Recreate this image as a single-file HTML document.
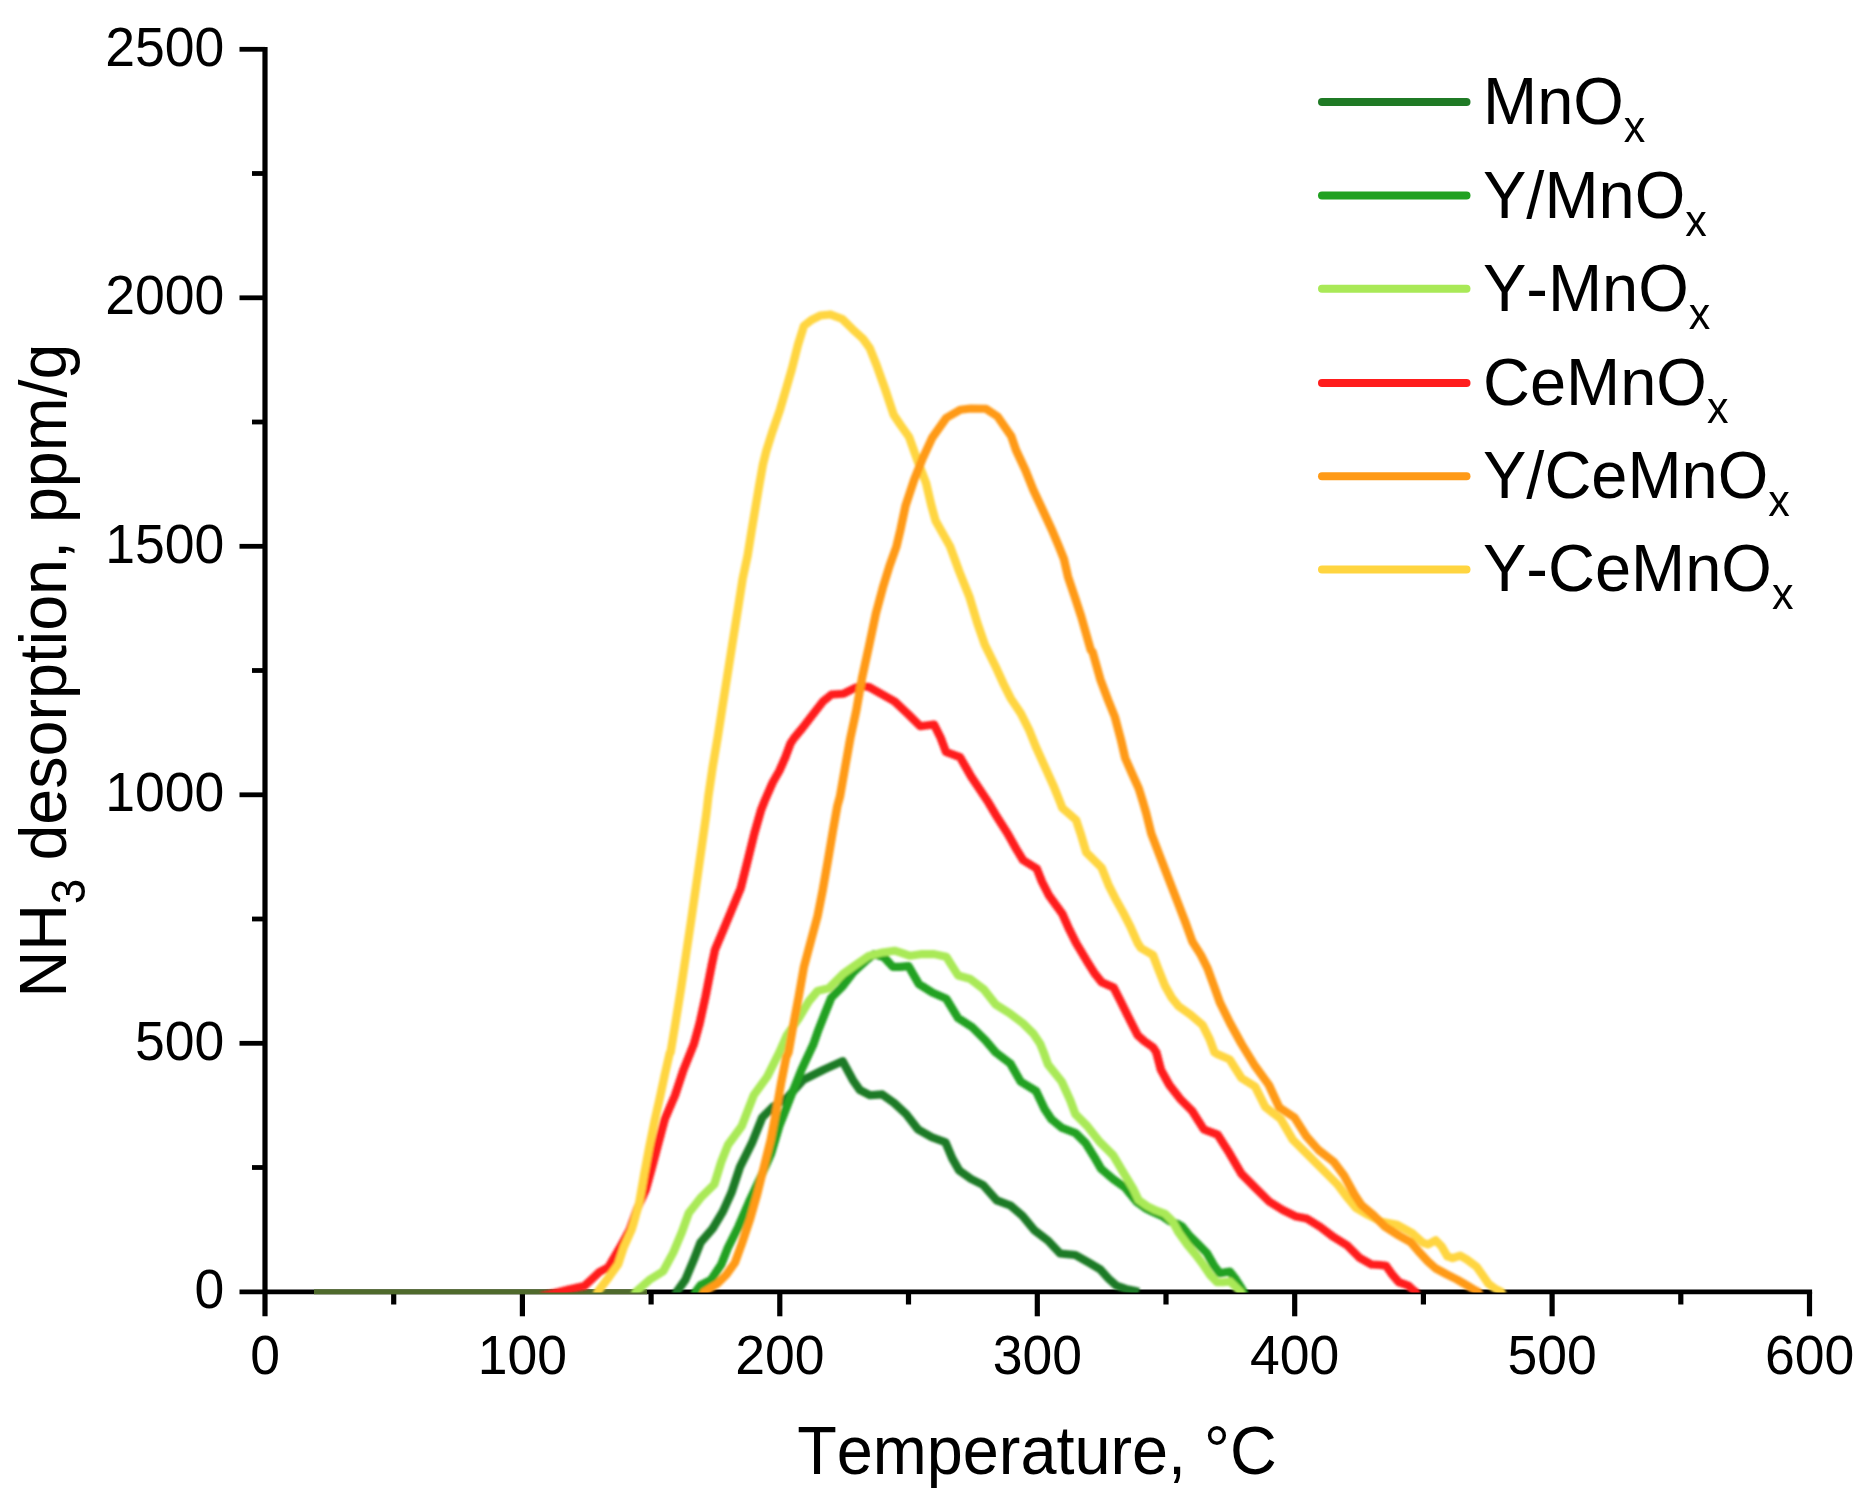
<!DOCTYPE html>
<html lang="en"><head><meta charset="utf-8"><title>NH3-TPD</title>
<style>html,body{margin:0;padding:0;background:#fff}body{width:1872px;height:1500px;overflow:hidden}svg{display:block;filter:blur(0.55px)}text{font-family:"Liberation Sans",Arial,sans-serif;fill:#000;font-kerning:none}</style>
</head><body>
<svg width="1872" height="1500" viewBox="0 0 1872 1500">
<rect width="1872" height="1500" fill="#fff"/>
<defs><filter id="soft" x="0" y="0" width="1872" height="1500" filterUnits="userSpaceOnUse"><feGaussianBlur stdDeviation="0.95"/></filter><clipPath id="plot"><rect x="262" y="40" width="1560" height="1252.4"/></clipPath></defs>
<g stroke="#000" fill="none" stroke-linecap="butt">
<g stroke-width="5.2">
<line x1="265.0" y1="46.9" x2="265.0" y2="1316.3"/>
<line x1="393.7" y1="1291.8" x2="393.7" y2="1304.5"/>
<line x1="522.4" y1="1291.8" x2="522.4" y2="1316.3"/>
<line x1="651.1" y1="1291.8" x2="651.1" y2="1304.5"/>
<line x1="779.8" y1="1291.8" x2="779.8" y2="1316.3"/>
<line x1="908.5" y1="1291.8" x2="908.5" y2="1304.5"/>
<line x1="1037.3" y1="1291.8" x2="1037.3" y2="1316.3"/>
<line x1="1166.0" y1="1291.8" x2="1166.0" y2="1304.5"/>
<line x1="1294.7" y1="1291.8" x2="1294.7" y2="1316.3"/>
<line x1="1423.4" y1="1291.8" x2="1423.4" y2="1304.5"/>
<line x1="1552.1" y1="1291.8" x2="1552.1" y2="1316.3"/>
<line x1="1680.8" y1="1291.8" x2="1680.8" y2="1304.5"/>
<line x1="1809.5" y1="1291.8" x2="1809.5" y2="1316.3"/>
</g>
<g stroke-width="4.8">
<line x1="239.5" y1="1291.8" x2="1812.1" y2="1291.8"/>
<line x1="252.0" y1="1167.5" x2="265.0" y2="1167.5"/>
<line x1="239.5" y1="1043.3" x2="265.0" y2="1043.3"/>
<line x1="252.0" y1="919.0" x2="265.0" y2="919.0"/>
<line x1="239.5" y1="794.8" x2="265.0" y2="794.8"/>
<line x1="252.0" y1="670.5" x2="265.0" y2="670.5"/>
<line x1="239.5" y1="546.3" x2="265.0" y2="546.3"/>
<line x1="252.0" y1="422.0" x2="265.0" y2="422.0"/>
<line x1="239.5" y1="297.8" x2="265.0" y2="297.8"/>
<line x1="252.0" y1="173.5" x2="265.0" y2="173.5"/>
<line x1="239.5" y1="49.3" x2="265.0" y2="49.3"/>
</g>
</g>
<rect x="314" y="1289.3" width="333" height="5.0" fill="#4f6a2c"/>
<g clip-path="url(#plot)"><g transform="scale(1.04,1)" filter="url(#soft)" fill="none" stroke-width="8.1" stroke-linejoin="round" stroke-linecap="butt">
<polyline stroke="#1f7a25" points="649.3,1295.8 650.7,1291.9 658.9,1279.9 667.2,1259.4 673.7,1242.3 685.2,1228.6 695.1,1211.5 703.3,1192.7 711.5,1167.1 723.0,1143.1 732.9,1117.5 742.8,1107.2 757.6,1097.0 772.4,1079.9 792.1,1069.6 810.2,1061.1 820.0,1079.9 826.9,1090.2 836.8,1095.3 848.3,1094.4 859.8,1103.0 871.3,1114.1 882.8,1129.5 896.0,1137.2 909.1,1142.3 915.7,1158.5 922.3,1170.5 933.8,1179.0 945.3,1185.0 958.4,1200.4 971.6,1205.5 983.1,1215.8 994.6,1230.3 1007.7,1240.6 1019.2,1253.4 1034.0,1255.1 1047.2,1262.8 1057.7,1269.2 1065.9,1278.6 1073.3,1285.5 1082.3,1288.9 1090.6,1290.6 1095.2,1291.8"/>
<polyline stroke="#21a121" points="667.4,1295.8 668.8,1291.9 673.7,1285.0 683.6,1279.9 693.5,1264.5 700.0,1247.4 709.9,1226.9 719.8,1203.0 731.3,1177.3 741.5,1153.4 749.3,1126.1 760.8,1095.3 770.7,1069.6 782.2,1044.0 786.2,1031.9 792.7,1014.8 799.3,997.7 809.2,987.5 820.7,972.1 832.2,961.0 840.4,954.1 850.3,957.5 858.5,966.9 865.4,966.9 873.6,966.1 883.5,984.0 896.6,992.6 909.8,998.6 921.3,1018.2 934.4,1026.8 947.6,1040.4 957.4,1052.4 971.6,1063.7 981.4,1081.6 996.2,1091.0 1004.4,1109.0 1011.0,1119.2 1020.9,1127.8 1034.0,1132.9 1043.9,1143.1 1052.1,1156.8 1058.7,1168.8 1070.2,1179.0 1081.7,1187.6 1093.1,1202.1 1101.2,1208.1 1109.4,1212.4 1118.5,1216.7 1125.1,1221.4 1131.6,1223.5 1136.6,1226.5 1143.9,1235.9 1152.2,1244.4 1160.4,1253.0 1167.0,1265.0 1172.8,1273.3 1182.6,1271.6 1188.4,1279.5 1194.1,1288.9 1195.7,1291.8 1197.1,1295.8"/>
<polyline stroke="#a9e957" points="609.8,1295.8 611.3,1291.9 624.4,1279.9 637.6,1271.4 647.4,1252.5 655.7,1232.0 662.2,1213.2 673.7,1197.8 686.9,1184.2 693.5,1161.9 700.0,1144.9 713.2,1126.1 724.7,1095.3 737.8,1076.5 749.3,1052.5 756.6,1035.3 768.1,1018.2 777.9,1001.1 786.2,990.9 796.8,988.3 810.8,973.8 822.3,965.2 835.5,955.8 848.6,952.4 860.1,950.7 865.4,952.4 875.2,955.8 886.8,954.1 898.3,954.1 909.8,956.7 921.3,975.5 932.8,978.9 945.9,989.2 957.4,1004.5 970.6,1013.1 983.7,1023.4 993.6,1033.6 1000.2,1043.9 1003.5,1052.4 1007.7,1064.5 1020.9,1081.6 1029.1,1100.4 1034.0,1114.1 1045.5,1126.1 1057.0,1141.4 1070.2,1155.1 1080.0,1172.2 1089.9,1189.3 1094.7,1200.0 1102.9,1206.0 1111.2,1210.3 1120.2,1213.7 1127.5,1221.4 1133.3,1232.5 1141.5,1244.4 1149.7,1254.7 1157.1,1265.0 1163.8,1275.2 1170.3,1282.2 1176.1,1282.2 1182.6,1281.4 1189.2,1288.0 1192.8,1291.8 1194.2,1295.8"/>
<polyline stroke="#ff1d1d" points="520.2,1296.3 548.0,1289.1 561.9,1286.0 568.6,1279.6 576.0,1272.3 585.0,1267.2 596.4,1247.1 605.5,1230.0 612.9,1208.1 621.1,1189.3 626.1,1170.5 632.6,1144.9 639.2,1119.2 649.1,1095.3 657.3,1069.6 667.2,1044.0 672.7,1023.4 678.5,996.0 684.3,965.2 687.5,949.8 695.8,929.3 704.0,908.8 712.2,888.3 718.8,861.0 725.3,833.6 731.9,809.7 735.6,800.0 742.9,782.6 749.5,770.6 755.3,756.9 760.2,743.2 763.5,738.1 771.7,727.9 782.4,713.3 791.4,701.4 799.6,694.5 811.2,693.7 821.0,688.5 826.9,686.0 835.6,687.0 847.1,693.8 860.3,701.5 873.4,714.4 884.9,726.3 898.1,724.6 904.7,738.3 909.6,752.0 923.1,757.1 933.9,776.8 950.4,802.4 957.4,814.8 968.9,833.6 977.2,849.0 983.7,860.1 996.9,868.6 1001.8,881.5 1008.4,895.1 1021.5,913.9 1028.1,929.3 1034.7,943.0 1044.5,960.1 1052.8,973.8 1059.3,982.3 1070.8,987.5 1077.4,1001.1 1085.6,1018.2 1093.9,1035.3 1100.4,1041.3 1108.6,1047.3 1111.9,1052.4 1116.2,1069.6 1124.4,1085.0 1134.6,1098.7 1146.1,1110.7 1157.6,1129.5 1170.8,1134.6 1182.3,1153.4 1193.8,1173.9 1206.9,1187.6 1220.1,1201.3 1233.2,1209.8 1246.4,1216.6 1256.2,1218.4 1269.4,1226.9 1282.5,1237.2 1295.7,1245.7 1307.2,1257.7 1318.7,1264.5 1326.9,1265.0 1332.7,1265.8 1339.2,1275.2 1345.0,1282.1 1354.0,1285.5 1359.1,1290.4 1361.1,1291.8 1362.5,1295.8"/>
<polyline stroke="#ffd540" points="573.3,1295.8 574.7,1291.8 585.6,1277.0 594.4,1264.2 599.8,1247.1 607.2,1230.0 609.6,1221.8 614.6,1203.0 619.5,1173.9 624.4,1146.6 629.4,1120.9 634.3,1098.7 639.2,1074.8 644.1,1052.5 644.8,1052.4 649.7,1021.6 654.7,989.2 659.6,955.0 664.5,920.8 669.5,884.9 674.4,849.0 679.3,813.1 681.1,796.4 685.2,767.4 690.2,736.6 694.3,709.2 699.2,676.8 704.1,644.3 709.1,611.8 714.0,579.3 718.9,555.4 722.9,529.3 726.2,508.8 729.8,486.6 733.6,464.4 736.9,450.7 742.6,431.9 750.0,409.7 755.8,389.1 761.5,368.6 767.3,344.7 773.0,325.9 780.4,319.9 788.6,315.6 798.5,314.4 810.0,319.1 819.9,329.3 829.7,338.7 836.3,348.1 842.9,365.2 851.1,389.1 859.3,414.8 865.9,425.0 874.1,437.0 882.3,460.9 890.5,483.2 895.5,505.4 899.6,520.8 907.0,534.4 913.5,546.4 922.4,571.6 932.3,597.3 939.7,622.9 947.1,645.1 956.9,665.7 965.2,684.5 971.7,698.1 981.6,713.5 989.8,730.6 996.4,747.7 1004.6,766.5 1012.8,785.3 1019.4,802.4 1021.5,808.0 1034.7,819.9 1039.6,835.3 1044.5,852.4 1059.3,867.8 1065.9,884.9 1072.5,898.6 1080.7,913.9 1087.3,927.6 1093.9,943.0 1097.1,948.1 1108.6,955.0 1113.6,968.6 1120.2,985.7 1126.7,997.7 1133.3,1006.3 1144.8,1014.8 1156.3,1025.1 1162.9,1038.7 1167.8,1052.4 1170.8,1054.3 1182.3,1059.4 1193.8,1078.2 1206.9,1086.7 1216.8,1107.2 1231.6,1119.2 1243.1,1139.7 1257.9,1155.1 1271.0,1168.8 1285.8,1184.2 1295.7,1197.8 1303.9,1208.1 1315.4,1214.9 1328.6,1221.8 1343.4,1224.8 1358.2,1233.3 1368.0,1242.7 1373.0,1244.4 1380.4,1240.2 1386.1,1246.2 1391.8,1256.4 1396.7,1258.1 1404.1,1255.6 1410.8,1259.8 1419.8,1266.7 1425.6,1275.2 1431.2,1283.8 1437.9,1288.9 1443.7,1291.8 1445.1,1295.8"/>
<polyline stroke="#ff9a17" points="675.6,1295.8 677.0,1291.9 690.2,1283.3 698.4,1274.8 706.6,1262.8 713.2,1244.0 721.4,1218.4 728.0,1194.4 734.5,1167.1 741.1,1139.7 746.1,1112.4 751.0,1083.3 755.9,1057.7 758.2,1052.4 763.1,1023.4 768.1,996.0 773.0,966.9 779.6,941.3 786.2,915.7 791.1,890.0 796.0,861.0 801.0,830.2 805.1,806.3 807.7,796.4 812.6,767.4 817.6,738.3 823.3,710.9 829.1,676.8 835.6,646.0 842.2,613.5 848.8,587.9 855.4,565.6 861.9,546.8 865.9,529.3 870.8,505.4 879.0,479.7 887.2,458.4 896.3,437.9 909.9,417.9 923.4,409.7 933.3,408.5 948.1,408.8 959.2,416.5 972.4,436.2 976.9,450.0 985.9,470.0 993.6,490.0 1002.6,510.0 1011.5,530.0 1018.0,546.0 1023.1,559.3 1026.9,576.7 1033.4,596.7 1039.7,616.7 1048.8,650.0 1050.6,652.0 1058.0,679.3 1065.4,699.8 1072.0,716.9 1077.7,739.2 1081.9,758.0 1088.4,773.4 1095.0,788.7 1099.1,802.4 1102.1,813.1 1107.0,833.6 1115.2,855.8 1123.4,878.1 1131.7,900.3 1139.9,922.5 1146.4,941.3 1154.7,955.0 1161.2,968.6 1167.8,987.5 1173.1,1002.8 1182.7,1023.0 1193.8,1044.0 1206.9,1066.2 1220.1,1085.0 1229.9,1107.2 1244.7,1117.5 1256.2,1136.3 1267.8,1150.0 1282.5,1161.9 1292.4,1175.6 1302.3,1194.4 1308.8,1204.7 1320.3,1214.9 1331.9,1226.9 1345.0,1235.5 1356.5,1242.3 1363.9,1251.3 1373.0,1261.5 1380.4,1268.4 1391.1,1274.4 1400.9,1279.5 1410.8,1285.5 1417.3,1289.7 1421.4,1291.8 1422.9,1295.8"/>
</g></g>
<g font-size="53.5">
<text transform="translate(224.2,1308.2) scale(1,1.05)" text-anchor="end">0</text>
<text transform="translate(224.2,1059.7) scale(1,1.05)" text-anchor="end">500</text>
<text transform="translate(224.2,811.2) scale(1,1.05)" text-anchor="end">1000</text>
<text transform="translate(224.2,562.7) scale(1,1.05)" text-anchor="end">1500</text>
<text transform="translate(224.2,314.2) scale(1,1.05)" text-anchor="end">2000</text>
<text transform="translate(224.2,65.7) scale(1,1.05)" text-anchor="end">2500</text>
<text transform="translate(265.0,1374.2) scale(1,1.05)" text-anchor="middle">0</text>
<text transform="translate(522.4,1374.2) scale(1,1.05)" text-anchor="middle">100</text>
<text transform="translate(779.8,1374.2) scale(1,1.05)" text-anchor="middle">200</text>
<text transform="translate(1037.3,1374.2) scale(1,1.05)" text-anchor="middle">300</text>
<text transform="translate(1294.7,1374.2) scale(1,1.05)" text-anchor="middle">400</text>
<text transform="translate(1552.1,1374.2) scale(1,1.05)" text-anchor="middle">500</text>
<text transform="translate(1809.5,1374.2) scale(1,1.05)" text-anchor="middle">600</text>
</g>
<text transform="translate(1037,1473.6) scale(1,1.05)" font-size="64.8" text-anchor="middle">Temperature, °C</text>
<text transform="translate(66.4,670.5) rotate(-90) scale(1,1.03)" font-size="64.6" text-anchor="middle">NH<tspan font-size="46" dy="18">3</tspan><tspan dy="-18"> desorption, ppm/g</tspan></text>
<g stroke-width="8.0" stroke-linecap="round">
<line x1="1322" y1="101.9" x2="1466.5" y2="101.9" stroke="#1f7a25"/>
<line x1="1322" y1="195.5" x2="1466.5" y2="195.5" stroke="#21a121"/>
<line x1="1322" y1="288.8" x2="1466.5" y2="288.8" stroke="#a9e957"/>
<line x1="1322" y1="382.9" x2="1466.5" y2="382.9" stroke="#ff1d1d"/>
<line x1="1322" y1="476.2" x2="1466.5" y2="476.2" stroke="#ff9a17"/>
<line x1="1322" y1="569.4" x2="1466.5" y2="569.4" stroke="#ffd540"/>
</g>
<g font-size="65">
<text transform="translate(1483,123.9) scale(1,1.03)">MnO<tspan font-size="43" dy="17.5">x</tspan></text>
<text transform="translate(1483,217.5) scale(1,1.03)">Y/MnO<tspan font-size="43" dy="17.5">x</tspan></text>
<text transform="translate(1483,310.8) scale(1,1.03)">Y-MnO<tspan font-size="43" dy="17.5">x</tspan></text>
<text transform="translate(1483,404.9) scale(1,1.03)">CeMnO<tspan font-size="43" dy="17.5">x</tspan></text>
<text transform="translate(1483,498.2) scale(1,1.03)">Y/CeMnO<tspan font-size="43" dy="17.5">x</tspan></text>
<text transform="translate(1483,591.4) scale(1,1.03)">Y-CeMnO<tspan font-size="43" dy="17.5">x</tspan></text>
</g>
</svg></body></html>
